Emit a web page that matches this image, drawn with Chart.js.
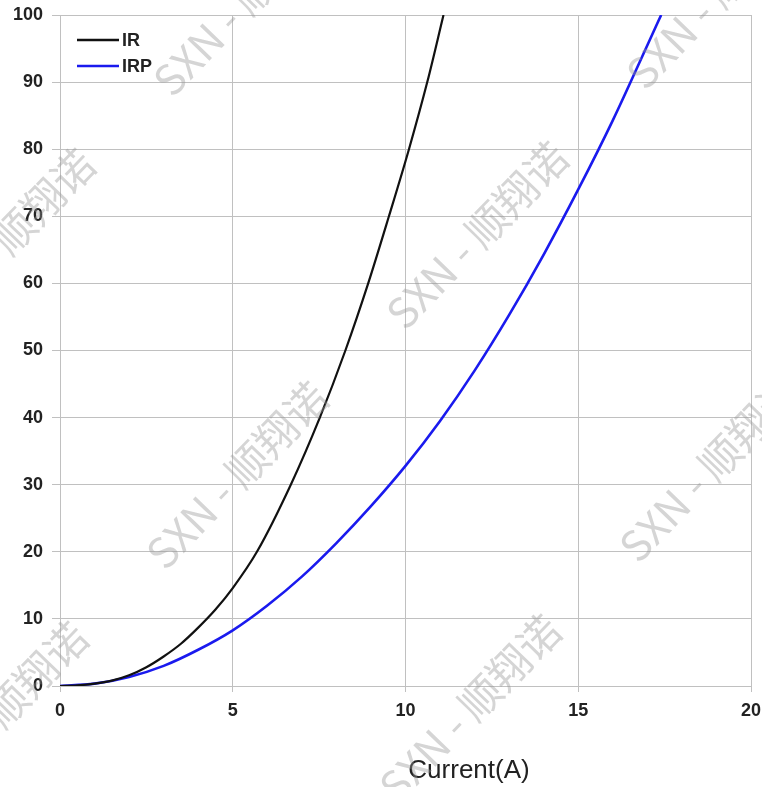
<!DOCTYPE html>
<html>
<head>
<meta charset="utf-8">
<script src="https://cdn.jsdelivr.net/npm/chart.js@4.4.1/dist/chart.umd.min.js"></script>
<style>
html,body{margin:0;padding:0;background:#fff;overflow:hidden;width:762px;height:787px}
#wrap{position:absolute;left:0;top:0;width:772px;height:787px}
</style>
</head>
<body>
<div id="wrap"><canvas id="chart"></canvas></div>
<script>
'use strict';

// curve readings, current (A) vs value
var irX  = [0, 0.5, 1, 1.5, 2, 2.5, 3, 3.5, 4, 4.5, 5, 5.7, 6.68, 7.52, 8.26, 8.92, 9.52, 10.1, 10.63, 11.1];
var irY  = [0, 0.1, 0.35, 0.8, 1.6, 2.8, 4.4, 6.3, 8.7, 11.4, 14.6, 20, 30, 40, 50, 60, 70, 80, 90, 100];
var irpX = [0, 1, 2, 3, 4, 5, 6, 7, 8, 9, 10, 11, 12, 13, 14, 15, 16, 17, 17.4];
var irpY = [0, 0.35, 1.35, 3, 5.4, 8.3, 12, 16.3, 21.3, 26.8, 32.8, 39.5, 47, 55.3, 64.3, 74, 84.3, 95.5, 100];

var xTicks = [0, 5, 10, 15, 20];
var yTicks = [0, 10, 20, 30, 40, 50, 60, 70, 80, 90, 100];
var xTitle = 'Current(A)';
var mark = 'SXN - 顺翔诺';

function pts(xs, ys){
  var out=[];
  for(var i=0;i<xs.length;i++)out.push({x:xs[i],y:ys[i]});
  return out;
}

var GRID='#c0c0c0';
var tickFont={family:'"Liberation Sans", Arial, sans-serif',size:18,weight:'bold'};

var legendBox={
  id:'legendBox',
  afterDatasetsDraw:function(chart){
    var ctx=chart.ctx,a=chart.chartArea;
    ctx.save();
    ctx.font='bold 18px "Liberation Sans", Arial, sans-serif';
    ctx.textBaseline='middle';
    chart.data.datasets.forEach(function(ds,i){
      var y=a.top+25+i*26;
      ctx.strokeStyle=ds.borderColor;ctx.lineWidth=2.5;
      ctx.beginPath();ctx.moveTo(a.left+17,y);ctx.lineTo(a.left+59,y);ctx.stroke();
      ctx.fillStyle='#222';
      ctx.fillText(ds.label,a.left+62,y+1);
    });
    ctx.restore();
  }
};

var axisTitle={
  id:'axisTitle',
  afterDraw:function(chart){
    var ctx=chart.ctx;
    ctx.save();
    ctx.font='26px "Liberation Sans", Arial, sans-serif';
    ctx.fillStyle='#222';ctx.textAlign='center';ctx.textBaseline='middle';
    ctx.fillText(xTitle,469,771);
    ctx.restore();
  }
};

var watermark={
  id:'watermark',
  afterDraw:function(chart){
    var ctx=chart.ctx;
    ctx.save();
    ctx.font='42px "Noto Sans CJK SC", sans-serif';
    ctx.fillStyle='rgba(150,150,150,0.4)';
    ctx.textAlign='center';ctx.textBaseline='middle';
    for(var i=-2;i<=2;i++)for(var j=-2;j<=3;j++){
      var cx=477+i*233-j*240, cy=235+i*233+j*240;
      if(cx<-200||cx>1000||cy<-200||cy>1000)continue;
      ctx.save();ctx.translate(cx,cy);ctx.rotate(-46*Math.PI/180);
      ctx.fillText(mark,0,0);ctx.restore();
    }
    ctx.restore();
  }
};

new Chart(document.getElementById('chart'),{
  type:'scatter',
  data:{datasets:[
    {label:'IR',data:pts(irX,irY),showLine:true,borderColor:'#111111',borderWidth:2.2,pointRadius:0,cubicInterpolationMode:'monotone'},
    {label:'IRP',data:pts(irpX,irpY),showLine:true,borderColor:'#1a1aee',borderWidth:2.6,pointRadius:0,cubicInterpolationMode:'monotone'}
  ]},
  options:{
    responsive:true,maintainAspectRatio:false,animation:false,
    layout:{padding:{top:15,right:21,left:0,bottom:0}},
    plugins:{legend:{display:false},tooltip:{enabled:false}},
    scales:{
      x:{type:'linear',min:0,max:20,
        afterBuildTicks:function(s){s.ticks=xTicks.map(function(v){return{value:v};});},
        afterFit:function(s){s.height=101;s.paddingLeft=0;s.paddingRight=0;},
        grid:{color:GRID,lineWidth:1,tickLength:6,tickColor:GRID},
        border:{color:GRID},
        ticks:{color:'#222',font:tickFont,padding:8,maxRotation:0}},
      y:{min:0,max:100,
        afterBuildTicks:function(s){s.ticks=yTicks.map(function(v){return{value:v};});},
        afterFit:function(s){s.width=60;s.paddingTop=0;s.paddingBottom=0;},
        grid:{color:GRID,lineWidth:1,tickLength:8,tickColor:GRID},
        border:{color:GRID},
        ticks:{color:'#222',font:tickFont,padding:9}}
    }
  },
  plugins:[legendBox,axisTitle,watermark]
});
</script>
</body>
</html>
